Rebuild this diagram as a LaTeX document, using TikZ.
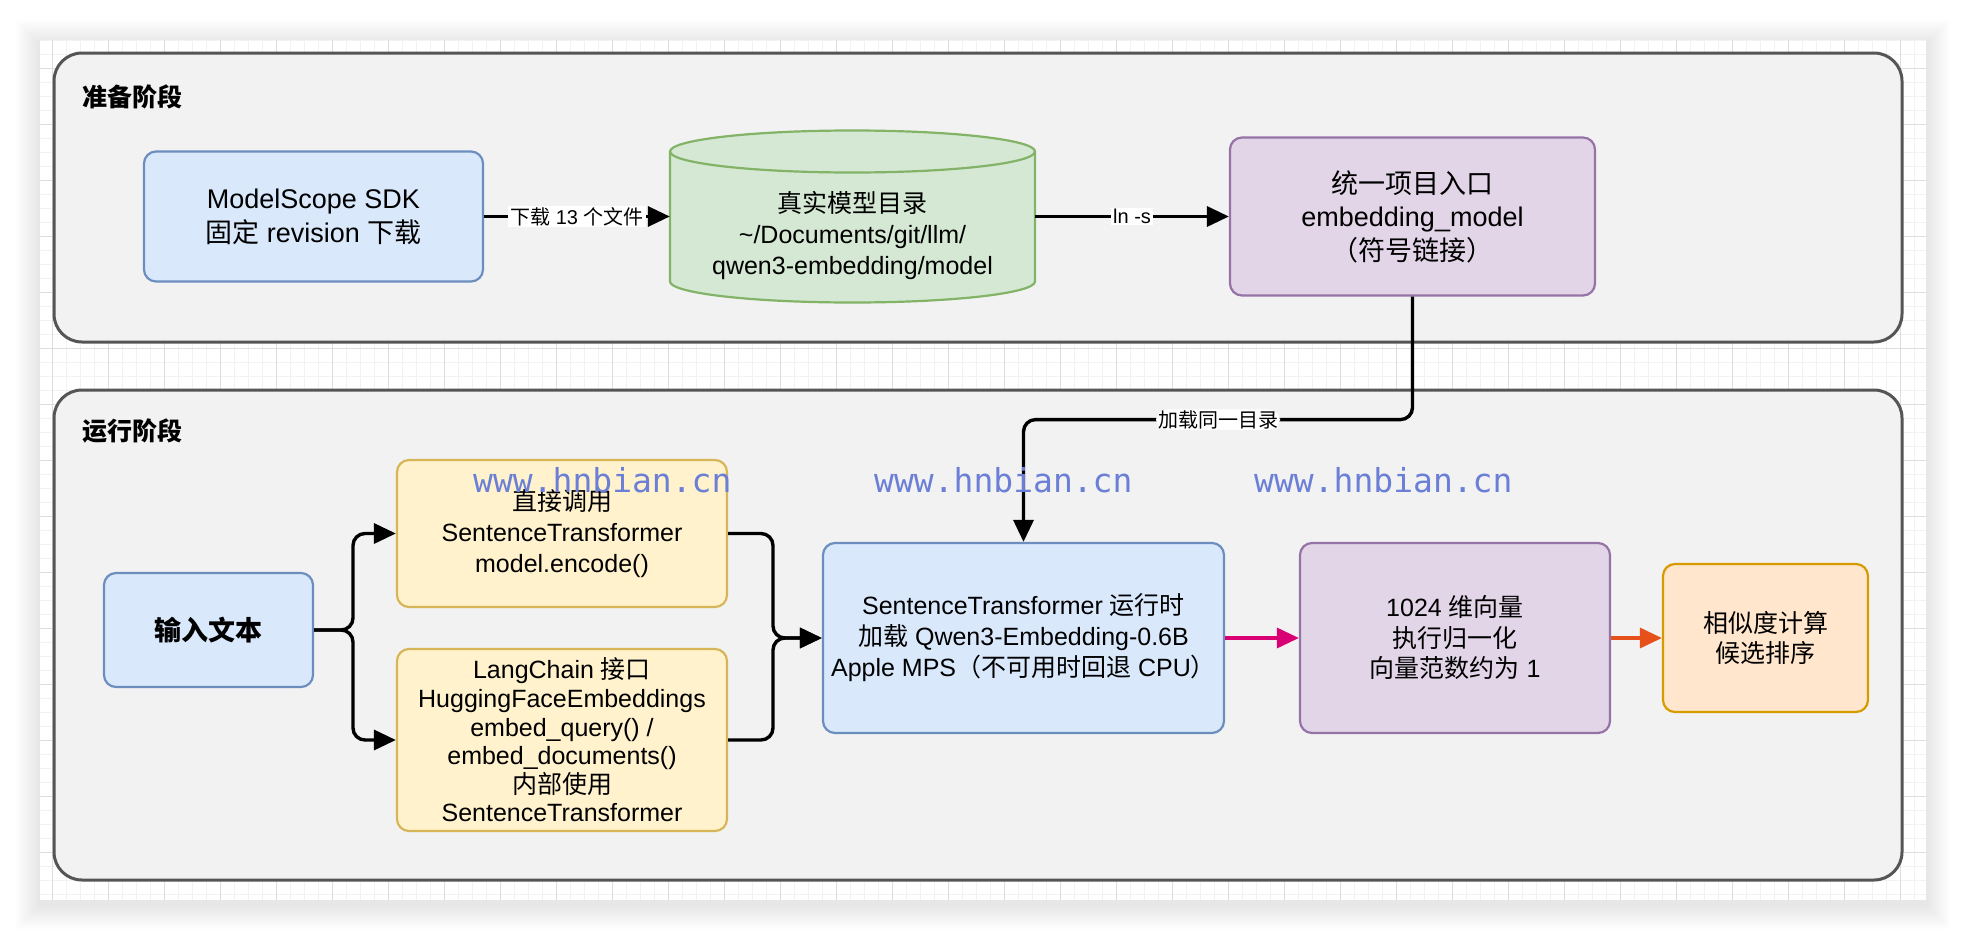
\documentclass[tikz,border=0pt]{standalone}
\usepackage{fontspec}
\setmainfont{Liberation Sans}
\newfontfamily\cjk{Noto Sans CJK SC}
\newfontfamily\wmfont{DejaVu Sans Mono}
\usetikzlibrary{arrows.meta}
\newcommand\zh[1]{{\cjk #1}}
\newcommand\fs[2]{\fontsize{#1}{#2}\selectfont}
\definecolor{cBlueF}{HTML}{DAE8FC}
\definecolor{cBlueS}{HTML}{6C8EBF}
\definecolor{cGreenF}{HTML}{D5E8D4}
\definecolor{cGreenS}{HTML}{82B366}
\definecolor{cPurF}{HTML}{E1D5E7}
\definecolor{cPurS}{HTML}{9673A6}
\definecolor{cYelF}{HTML}{FFF2CC}
\definecolor{cYelS}{HTML}{D6B656}
\definecolor{cOrF}{HTML}{FFE6CC}
\definecolor{cOrS}{HTML}{D79B00}
\definecolor{cGrpF}{HTML}{F2F2F2}
\definecolor{cGrpS}{HTML}{555555}
\definecolor{cPink}{HTML}{D80073}
\definecolor{cOrA}{HTML}{E6501A}
\definecolor{cWM}{RGB}{107,127,215}
\definecolor{cMinor}{HTML}{F2F2F2}
\definecolor{cMajor}{HTML}{DDDDDD}
\begin{document}
\begin{tikzpicture}[x=1pt,y=-1pt,
  box/.style={draw, line width=2.2pt, rounded corners=12pt, align=center, inner sep=0pt, font=\fs{25}{30.5}},
  bluebox/.style={box, fill=cBlueF, draw=cBlueS},
  greenbox/.style={fill=cGreenF, draw=cGreenS, line width=2.2pt},
  purbox/.style={box, fill=cPurF, draw=cPurS},
  yelbox/.style={box, fill=cYelF, draw=cYelS},
  orbox/.style={box, fill=cOrF, draw=cOrS},
  grp/.style={draw=cGrpS, fill=cGrpF, line width=3pt, rounded corners=28pt, inner sep=0pt},
  glabel/.style={inner sep=0pt, font=\fs{25}{30}},
  arr/.style={line width=3.4pt, -{Triangle[length=22pt,width=20pt]}},
  lbl/.style={fill=white, inner xsep=2pt, inner ysep=1pt, font=\fs{20}{22}},
  txt/.style={align=center, inner sep=0pt, font=\fs{25}{31}},
  wm/.style={inner sep=0pt, text=cWM, font=\wmfont\fs{33}{36}}]
\useasboundingbox (0,0) rectangle (1966,940);
\fill[white] (0,0) rectangle (1966,940);
% shadow
\foreach \i in {1,...,12}
  \fill[black, opacity=0.007] (40-2*\i, 44-2*\i) rectangle (1926+2*\i, 905+2*\i);
% canvas with grid
\begin{scope}
  \clip (40,40) rectangle (1926,900);
  \fill[white] (40,40) rectangle (1926,900);
  \foreach \x in {38,52,...,1930} \draw[cMinor, line width=1pt] (\x,40) -- (\x,900);
  \foreach \y in {40,54,...,904} \draw[cMinor, line width=1pt] (40,\y) -- (1926,\y);
  \foreach \x in {52,108,...,1930} \draw[cMajor, line width=1pt] (\x,40) -- (\x,900);
  \foreach \y in {12,68,...,904} \draw[cMajor, line width=1pt] (40,\y) -- (1926,\y);
\end{scope}
% groups
\node[grp, minimum width=1848pt, minimum height=289pt] (prep) at (978,197.5) {};
\node[grp, minimum width=1848pt, minimum height=490pt] (run) at (978,635) {};
\node[glabel, anchor=west] (prepl) at (82,97) {\zh{\bfseries 准备阶段}};
\node[glabel, anchor=west] (runl) at (82,431) {\zh{\bfseries 运行阶段}};
% top row
\node[bluebox, minimum width=339pt, minimum height=130pt, font=\fs{27}{34}] (ms) at (313.5,216.5)
  {ModelScope SDK\\\zh{固定} revision \zh{下载}};
\node[inner sep=0pt, minimum width=365pt, minimum height=172pt] (cyl) at (852.5,216.5) {};
\draw[greenbox] (670,281.5) arc[start angle=180, end angle=360, x radius=182.5pt, y radius=21pt]
  -- (1035,151.5) arc[start angle=0, end angle=180, x radius=182.5pt, y radius=21pt] -- cycle;
\draw[draw=cGreenS, line width=2.2pt] (670,151.5) arc[start angle=180, end angle=360, x radius=182.5pt, y radius=21pt];
\node[txt] (cyltxt) at (852.5,236) {\zh{真实模型目录}\\\textasciitilde/Documents/git/llm/\\qwen3-embedding/model};
\node[purbox, minimum width=365pt, minimum height=158pt, font=\fs{27}{33.5}] (ent) at (1412.5,216.5)
  {\zh{统一项目入口}\\embedding\_model\\\zh{（符号链接）}};
% bottom row
\node[bluebox, minimum width=209pt, minimum height=114pt, font=\fs{27}{33}] (in) at (208.5,630) {\zh{\bfseries 输入文本}};
\node[yelbox, minimum width=330pt, minimum height=147pt, font=\fs{25}{31}] (y1) at (562,533.5)
  {\zh{直接调用}\\SentenceTransformer\\model.encode()};
\node[yelbox, minimum width=330pt, minimum height=182pt, font=\fs{25}{28.6}] (y2) at (562,740)
  {LangChain \zh{接口}\\HuggingFaceEmbeddings\\embed\_query() /\\embed\_documents()\\\zh{内部使用}\\SentenceTransformer};
\node[bluebox, minimum width=401pt, minimum height=190pt, font=\fs{25}{31}] (rt) at (1023.5,638)
  {SentenceTransformer \zh{运行时}\\\zh{加载} Qwen3-Embedding-0.6B\\Apple MPS\zh{（不可用时回退} CPU\zh{）}};
\node[purbox, minimum width=310pt, minimum height=190pt, font=\fs{25}{30.5}] (vec) at (1455,638)
  {1024 \zh{维向量}\\\zh{执行归一化}\\\zh{向量范数约为} 1};
\node[orbox, minimum width=205pt, minimum height=148pt, font=\fs{25}{30.5}] (sim) at (1765.5,638)
  {\zh{相似度计算}\\\zh{候选排序}};
% connectors
\draw[arr] (ms) -- node[lbl]{\zh{下载} 13 \zh{个文件}} (cyl);
\draw[arr] (cyl) -- node[lbl]{ln -s} (ent);
\draw[arr, rounded corners=12pt] (ent.south) -- ++(0,123) -| node[lbl, pos=0.25]{\zh{加载同一目录}} (rt.north);
\coordinate (bx) at (353,630);
\draw[arr, rounded corners=12pt] (in.east) -- (bx) |- (y1.west);
\draw[arr, rounded corners=12pt] (in.east) -- (bx) |- (y2.west);
\coordinate (mx) at (773,638);
\draw[arr, rounded corners=12pt] (y1.east) -| (mx) -- (rt.west);
\draw[arr, rounded corners=12pt] (y2.east) -| (mx) -- (rt.west);
\draw[arr, cPink] (rt) -- (vec);
\draw[arr, cOrA] (vec) -- (sim);
% watermarks
\node[wm, anchor=base west] (wm1) at (473,492) {www.hnbian.cn};
\node[wm, anchor=base west] (wm2) at (874,492) {www.hnbian.cn};
\node[wm, anchor=base west] (wm3) at (1254,492) {www.hnbian.cn};
\end{tikzpicture}
\end{document}
